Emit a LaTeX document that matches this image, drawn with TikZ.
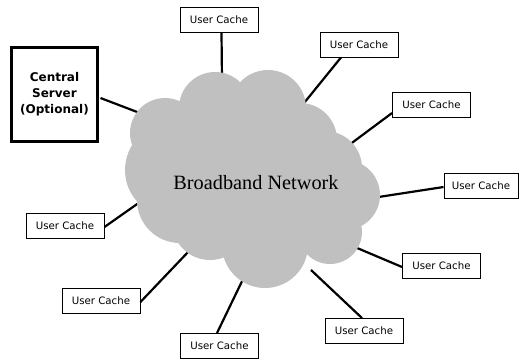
\documentclass[tikz,border=0pt]{standalone}
\usepackage{fontspec}
\setmainfont{Liberation Serif}
\newfontfamily\boxfont{DejaVu Sans}
\usetikzlibrary{calc}
\definecolor{cloudgray}{HTML}{C0C0C0}
\tikzset{
  ucbox/.style={draw=black, line width=0.9pt, fill=white, minimum width=78pt, minimum height=25pt, inner sep=0pt, font=\boxfont\fontsize{10.2}{12}\selectfont},
  srvbox/.style={draw=black, line width=3pt, fill=white, minimum width=86pt, minimum height=94pt, inner sep=0pt, align=center, font=\boxfont\bfseries\fontsize{12}{16}\selectfont},
  link/.style={draw=black, line width=2.2pt},
  blob/.style={fill=cloudgray, draw=none}
}
\begin{document}
\begin{tikzpicture}[x=1pt,y=-1pt]
\useasboundingbox (0,0) rectangle (520,360);
% boxes
\node[ucbox] (u1) at (219,19.5) {User Cache};
\node[srvbox] (srv) at (54.5,94.5) {Central\\Server\\(Optional)};
\node[ucbox] (u3) at (359,44.5) {User Cache};
\node[ucbox] (u4) at (431.5,104.5) {User Cache};
\node[ucbox, minimum width=74pt] (u5) at (481,185.5) {User Cache};
\node[ucbox] (u6) at (441.5,265.5) {User Cache};
\node[ucbox] (u7) at (364,331) {User Cache};
\node[ucbox] (u8) at (219.5,346) {User Cache};
\node[ucbox] (u9) at (101,300.5) {User Cache};
\node[ucbox] (u10) at (65,225.5) {User Cache};
% cloud attach points
\coordinate (c1) at (222,80);
\coordinate (c2) at (145,115);
\coordinate (c3) at (300,108);
\coordinate (c4) at (341,151);
\coordinate (c5) at (372,198);
\coordinate (c6) at (350,245);
\coordinate (c7) at (311,270);
\coordinate (c8) at (245,275);
\coordinate (c9) at (190,250);
\coordinate (c10) at (150,195);
% connectors
\draw[link] ($(u1.south)+(2.5,0)$) -- (c1);
\draw[link] ($(srv.east)+(1.5,3.5)$) -- (c2);
\draw[link] ($(u3.south)+(-18,0)$) -- (c3);
\draw[link] ($(u4.west)+(0,8.5)$) -- (c4);
\draw[link] ($(u5.west)+(0,1.5)$) -- (c5);
\draw[link] ($(u6.west)+(0,1.5)$) -- (c6);
\draw[link] ($(u7.north)+(-2,0)$) -- (c7);
\draw[link] ($(u8.north)+(-2.5,0)$) -- (c8);
\draw[link] ($(u9.east)+(0,1.5)$) -- (c9);
\draw[link] ($(u10.east)+(0,1.5)$) -- (c10);
% cloud
\fill[blob] (165,133) circle (35);
\fill[blob] (215,108) circle (36);
\fill[blob] (268,108) circle (38);
\fill[blob] (300,140) circle (37);
\fill[blob] (325,168) circle (37);
\fill[blob] (345,195) circle (35);
\fill[blob] (330,232) circle (32);
\fill[blob] (265,245) circle (43);
\fill[blob] (210,222) circle (38);
\fill[blob] (180,200) circle (43);
\fill[blob] (172,170) circle (47);
\fill[blob] (260,180) circle (85);
\node[font=\fontsize{20.3}{24}\selectfont, inner sep=0pt] (net) at (256,183) {Broadband Network};
\end{tikzpicture}
\end{document}
